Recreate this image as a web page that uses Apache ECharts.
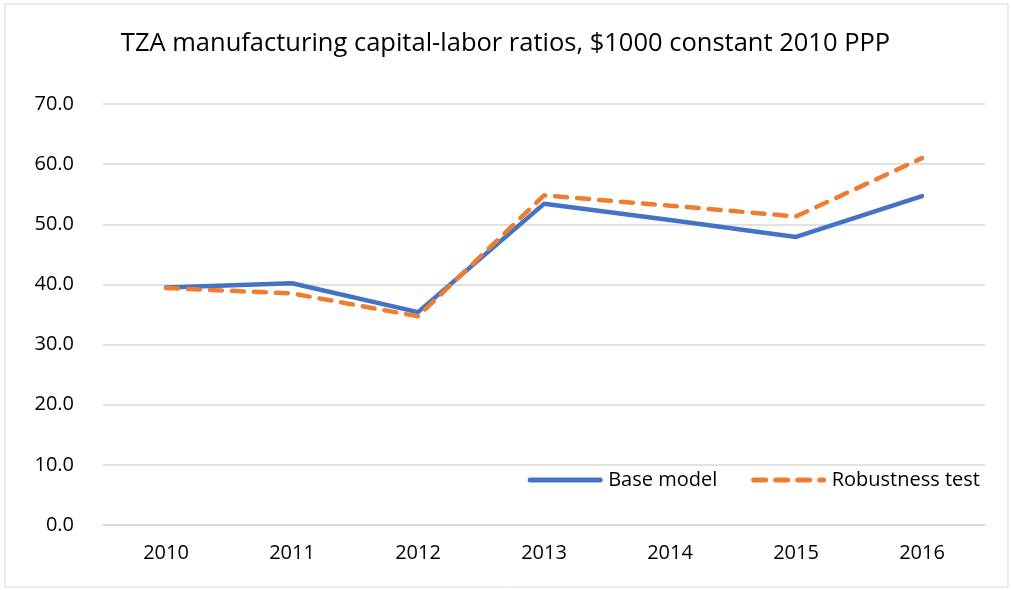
<!DOCTYPE html>
<html>
<head>
<meta charset="utf-8">
<script src="https://cdn.jsdelivr.net/npm/echarts@6/dist/echarts.min.js"></script>
<style>
  html, body { margin: 0; padding: 0; background: #fff; }
  #chart { width: 1011px; height: 590px; }
</style>
</head>
<body>
<div id="chart"></div>
<script>
const years = ["2010", "2011", "2012", "2013", "2014", "2015", "2016"];
const baseModel = [39.5, 40.2, 35.4, 53.4, 50.7, 47.9, 54.7];
const robustnessTest = [39.4, 38.5, 34.7, 54.8, 53.1, 51.3, 61.0];

const chart = echarts.init(document.getElementById("chart"));
const font = "Open Sans";

chart.setOption({
  animation: false,
  textStyle: { fontFamily: font },
  graphic: [
    {
      type: "rect",
      shape: { x: 5, y: 4, width: 1003, height: 583 },
      style: { fill: "none", stroke: "#d9d9d9", lineWidth: 1 },
      silent: true,
    },
  ],
  title: {
    text: "TZA manufacturing capital-labor ratios, $1000 constant 2010 PPP",
    left: "center",
    top: 26,
    textStyle: { fontFamily: font, fontSize: 25.5, fontWeight: "normal", color: "#000" },
  },
  legend: {
    right: 26,
    top: 465,
    itemWidth: 70,
    itemHeight: 12,
    itemGap: 34,
    textStyle: { fontFamily: font, fontSize: 20, color: "#000", padding: [0, 0, 0, 3] },
    itemStyle: { opacity: 0 },
    lineStyle: { width: 5, cap: "round" },
    data: ["Base model", "Robustness test"],
  },
  grid: { left: 103, right: 26, top: 104, bottom: 65 },
  xAxis: {
    type: "category",
    data: years,
    boundaryGap: true,
    axisTick: { show: false },
    axisLine: { lineStyle: { color: "#d9d9d9", width: 1.5 } },
    axisLabel: { color: "#000", fontSize: 20, margin: 18, fontFamily: font },
  },
  yAxis: {
    type: "value",
    min: 0,
    max: 70,
    interval: 10,
    axisLine: { show: false },
    axisTick: { show: false },
    splitLine: { lineStyle: { color: "#d9d9d9", width: 1.5 } },
    axisLabel: {
      color: "#000",
      fontSize: 20,
      margin: 29,
      fontFamily: font,
      formatter: (v) => v.toFixed(1),
    },
  },
  series: [
    {
      name: "Base model",
      type: "line",
      data: baseModel,
      symbol: "none",
      color: "#4472c4",
      lineStyle: { color: "#4472c4", width: 4.5, cap: "round", join: "round" },
    },
    {
      name: "Robustness test",
      type: "line",
      data: robustnessTest,
      symbol: "none",
      color: "#ed7d31",
      lineStyle: {
        color: "#ed7d31",
        width: 4.5,
        type: [12, 10],
        cap: "round",
        join: "round",
      },
    },
  ],
});
</script>
</body>
</html>
